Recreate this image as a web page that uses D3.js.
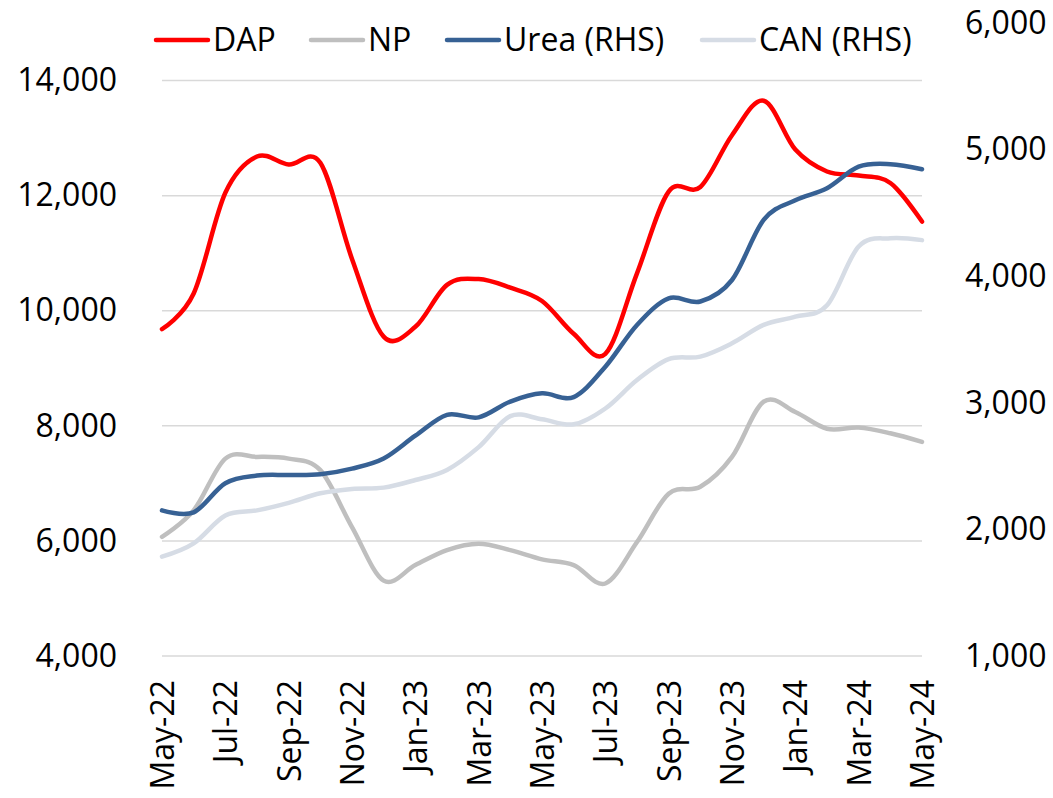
<!DOCTYPE html>
<html>
<head>
<meta charset="utf-8">
<script src="https://cdn.jsdelivr.net/npm/d3@7"></script>
<style>
  body { margin: 0; background: #fff; }
  svg text { font-family: "Open Sans", sans-serif; fill: #000; }
</style>
</head>
<body>
<div id="chart"></div>
<script>
// monthly, May-22 .. May-24
const months = ["May-22","Jun-22","Jul-22","Aug-22","Sep-22","Oct-22","Nov-22","Dec-22",
  "Jan-23","Feb-23","Mar-23","Apr-23","May-23","Jun-23","Jul-23","Aug-23","Sep-23","Oct-23",
  "Nov-23","Dec-23","Jan-24","Feb-24","Mar-24","Apr-24","May-24"];

const dap  = [9680,10300,12050,12680,12540,12570,10900,9550,9720,10450,10550,10400,10170,
  9600,9250,10650,12070,12150,13050,13650,12800,12420,12350,12220,11550];
const np   = [6070,6530,7430,7460,7430,7230,6240,5310,5580,5840,5950,5840,5680,
  5580,5260,5980,6820,6940,7460,8420,8240,7950,7970,7870,7720];
const urea = [2150,2135,2365,2425,2430,2436,2480,2560,2740,2905,2885,3010,3075,
  3045,3285,3615,3825,3800,3970,4445,4600,4695,4865,4885,4845];
const can  = [1785,1890,2110,2150,2210,2285,2320,2330,2390,2470,2650,2895,2870,
  2830,2955,3180,3345,3365,3470,3615,3680,3770,4235,4300,4285];

const leftTicks = [4000, 6000, 8000, 10000, 12000, 14000];
const rightTicks = [1000, 2000, 3000, 4000, 5000, 6000];

const series = [
  { name: "DAP", values: dap, axis: "L", color: "#ff0000" },
  { name: "NP", values: np, axis: "L", color: "#bfbfbf" },
  { name: "Urea (RHS)", values: urea, axis: "R", color: "#376194" },
  { name: "CAN (RHS)", values: can, axis: "R", color: "#d6dce5" }
];

const W = 1053, H = 798;
const plot = { left: 162, right: 922, top: 23, bottom: 656 };

const svg = d3.select("#chart").append("svg")
  .attr("width", W).attr("height", H);

const x = d3.scalePoint().domain(months).range([plot.left, plot.right]);
const yL = d3.scaleLinear().domain([4000, 15000]).range([plot.bottom, plot.top]);
const yR = d3.scaleLinear().domain([1000, 6000]).range([plot.bottom, plot.top]);

// gridlines
svg.append("g").selectAll("line").data(leftTicks).join("line")
  .attr("x1", plot.left).attr("x2", plot.right)
  .attr("y1", d => yL(d)).attr("y2", d => yL(d))
  .attr("stroke", "#d9d9d9").attr("stroke-width", 1.5);

const fmt = d3.format(",");

const axL = svg.append("g").attr("transform", `translate(${plot.left},0)`)
  .call(d3.axisLeft(yL).tickValues(leftTicks).tickFormat(fmt).tickSize(0).tickPadding(45));
const axR = svg.append("g").attr("transform", `translate(${plot.right},0)`)
  .call(d3.axisRight(yR).tickValues(rightTicks).tickFormat(fmt).tickSize(0).tickPadding(43));
const axB = svg.append("g").attr("transform", `translate(0,${plot.bottom})`)
  .call(d3.axisBottom(x).tickValues(months.filter((m, i) => i % 2 === 0)).tickSize(0));

[axL, axR, axB].forEach(a => {
  a.select(".domain").remove();
  a.selectAll("text").style("font-size", "32px").attr("font-family", null);
});
axB.selectAll("text")
  .attr("transform", "rotate(-90)")
  .attr("text-anchor", "end")
  .attr("x", -24).attr("y", 0).attr("dy", "0.36em");

const line = (scale) => d3.line()
  .x((d, i) => x(months[i]))
  .y(d => scale(d))
  .curve(d3.curveCardinal.tension(0));

svg.append("g").selectAll("path").data(series).join("path")
  .attr("d", s => line(s.axis === "L" ? yL : yR)(s.values))
  .attr("fill", "none")
  .attr("stroke", s => s.color)
  .attr("stroke-width", 4.5)
  .attr("stroke-linejoin", "round")
  .attr("stroke-linecap", "round");

// legend
const legendX = [156, 311, 447, 702];
const lg = svg.append("g").selectAll("g").data(series).join("g")
  .attr("transform", (s, i) => `translate(${legendX[i]},40)`);
lg.append("line").attr("x1", 0).attr("x2", 52)
  .attr("stroke", s => s.color).attr("stroke-width", 4.5).attr("stroke-linecap", "round");
lg.append("text").attr("x", 57).attr("dy", "0.35em")
  .style("font-size", "32px").text(s => s.name);
</script>
</body>
</html>
